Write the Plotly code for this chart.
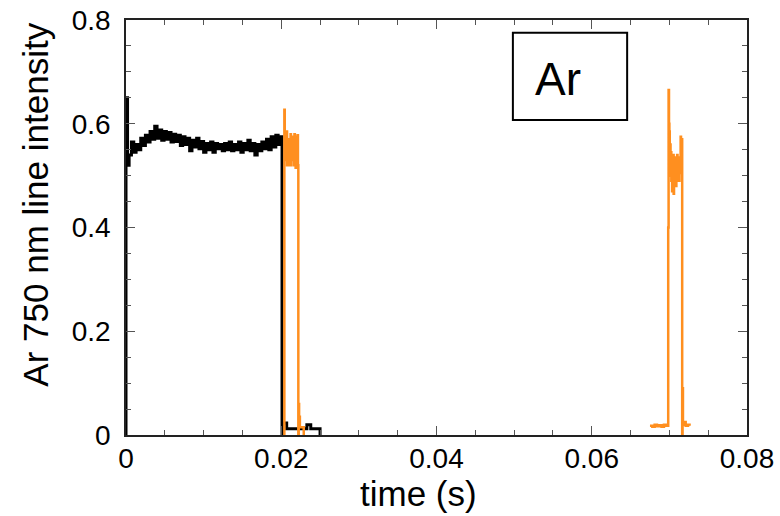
import plotly.graph_objects as go

# ---- data ----
black_t = [0.0, 0.0, 0.0002,
           0.0004, 0.0007, 0.0010, 0.0013, 0.0016, 0.0019, 0.0022, 0.0025, 0.0028, 0.0031,
           0.0034, 0.0037, 0.0040, 0.0043, 0.0046, 0.0049, 0.0052, 0.0055, 0.0058, 0.0061,
           0.0064, 0.0067, 0.0070, 0.0073, 0.0076, 0.0079, 0.0082, 0.0085, 0.0088, 0.0091,
           0.0094, 0.0097, 0.0100, 0.0103, 0.0106, 0.0109, 0.0112, 0.0115, 0.0118, 0.0121,
           0.0124, 0.0127, 0.0130, 0.0133, 0.0136, 0.0139, 0.0142, 0.0145, 0.0148, 0.0151,
           0.0154, 0.0157, 0.0160, 0.0163, 0.0166, 0.0169, 0.0172, 0.0175, 0.0178, 0.0181,
           0.0184, 0.0187, 0.0190, 0.0193, 0.0196, 0.0199,
           0.0201, 0.0202, 0.0207, 0.0233, 0.0238, 0.0250]
black_v = [0.0, 0.65, 0.52,
           0.54, 0.565, 0.545, 0.56, 0.55, 0.572, 0.558, 0.578, 0.565, 0.585,
           0.57, 0.595, 0.572, 0.588, 0.568, 0.585, 0.57, 0.583, 0.565, 0.58,
           0.566, 0.578, 0.558, 0.575, 0.56, 0.572, 0.548, 0.568, 0.555, 0.572,
           0.552, 0.566, 0.545, 0.562, 0.55, 0.565, 0.545, 0.562, 0.552, 0.56,
           0.548, 0.562, 0.55, 0.565, 0.548, 0.56, 0.55, 0.565, 0.545, 0.562,
           0.55, 0.568, 0.548, 0.562, 0.54, 0.56, 0.548, 0.565, 0.552, 0.57,
           0.55, 0.575, 0.555, 0.578, 0.56, 0.575,
           0.0, 0.023, 0.012, 0.02, 0.012, 0.0]

orange1_t = [0.02035, 0.0204, 0.02045, 0.0205, 0.02055, 0.0206, 0.02065, 0.0207, 0.02075,
             0.0208, 0.02085, 0.0209, 0.02095, 0.0210, 0.02105, 0.0211, 0.02115, 0.0212,
             0.02125, 0.0213, 0.02135, 0.0214, 0.02145, 0.0215, 0.02155, 0.0216, 0.02165,
             0.0217, 0.02175, 0.0218, 0.02185, 0.0219, 0.02195, 0.0220, 0.02205, 0.0221,
             0.02215, 0.0222, 0.02225, 0.0223, 0.02235, 0.0224, 0.0229]
orange1_v = [0.0, 0.627, 0.545, 0.58, 0.53, 0.57, 0.54, 0.585, 0.52,
             0.56, 0.535, 0.565, 0.54, 0.57, 0.52, 0.56, 0.545, 0.58,
             0.52, 0.565, 0.54, 0.575, 0.53, 0.56, 0.535, 0.57, 0.52,
             0.58, 0.54, 0.575, 0.515, 0.565, 0.53, 0.575, 0.55, 0.578,
             0.52, 0.0, 0.06, 0.02, 0.035, 0.015, 0.0]

orange2_t = [0.0675, 0.0678, 0.0681, 0.0684, 0.0687, 0.0690, 0.0693, 0.0696,
             0.06985, 0.0699, 0.06995, 0.0700, 0.07005, 0.0701, 0.07015, 0.0702, 0.07025,
             0.0703, 0.07035, 0.0704, 0.07045, 0.0705, 0.07055, 0.0706, 0.07065, 0.0707,
             0.07075, 0.0708, 0.07085, 0.0709, 0.07095, 0.0710, 0.07105, 0.0711, 0.07115,
             0.0712, 0.07125, 0.0713, 0.07135, 0.0714, 0.07145, 0.0715,
             0.07165, 0.0717, 0.07175, 0.0718, 0.0721, 0.0724, 0.0726]
orange2_v = [0.018, 0.016, 0.02, 0.017, 0.019, 0.016, 0.02, 0.018,
             0.40, 0.665, 0.60, 0.585, 0.53, 0.56, 0.50, 0.545, 0.49,
             0.53, 0.47, 0.52, 0.50, 0.54, 0.465, 0.52, 0.49, 0.535,
             0.50, 0.525, 0.48, 0.53, 0.50, 0.54, 0.49, 0.525, 0.50,
             0.535, 0.49, 0.53, 0.505, 0.52, 0.575, 0.57,
             0.0, 0.09, 0.02, 0.025, 0.018, 0.02, 0.018]

label_text = "Ar"
x_title = "time (s)"
y_title = "Ar 750 nm line intensity"

FONT = "Liberation Sans, Arial, Helvetica, sans-serif"
ORANGE = "#FF8F1F"

fig = go.Figure()
fig.add_trace(go.Scatter(x=black_t, y=black_v, mode="lines",
                         line=dict(color="black", width=3, shape="hv"), showlegend=False))
fig.add_trace(go.Scatter(x=orange1_t, y=orange1_v, mode="lines",
                         line=dict(color=ORANGE, width=2.5, shape="hv"), showlegend=False))
fig.add_trace(go.Scatter(x=orange2_t, y=orange2_v, mode="lines",
                         line=dict(color=ORANGE, width=2.5, shape="hv"), showlegend=False))

axis_common = dict(
    showgrid=False, zeroline=False, showline=True, linecolor="#222", linewidth=1.5,
    mirror="ticks", ticks="inside", ticklen=9, tickwidth=1, tickcolor="#555",
    tickfont=dict(family=FONT, size=28, color="black"), automargin=False,
)

fig.update_xaxes(range=[0, 0.08], dtick=0.02, tick0=0, ticklabelstandoff=-2,
                 minor=dict(dtick=0.005, ticks="inside", ticklen=5, tickcolor="#555", tickwidth=1),
                 **axis_common)
fig.update_yaxes(range=[0, 0.8], dtick=0.2, tick0=0, ticklabelstandoff=8,
                 minor=dict(dtick=0.05, ticks="inside", ticklen=5, tickcolor="#555", tickwidth=1),
                 **axis_common)

# axis titles (placed as annotations to match the reference's offsets)
fig.add_annotation(text=x_title, xref="paper", yref="paper", x=0.471, y=-0.14,
                   xanchor="center", yanchor="middle", showarrow=False,
                   font=dict(family=FONT, size=35, color="black"))
fig.add_annotation(text=y_title, xref="paper", yref="paper", x=-0.145, y=0.555,
                   xanchor="center", yanchor="middle", showarrow=False, textangle=-90,
                   font=dict(family=FONT, size=35, color="black"))

fig.add_shape(type="rect", xref="paper", yref="paper",
              x0=0.623, x1=0.807, y0=0.759, y1=0.969,
              line=dict(color="black", width=2), fillcolor="white", layer="above")
fig.add_annotation(text=label_text, xref="paper", yref="paper", x=0.696, y=0.857,
                   xanchor="center", yanchor="middle", showarrow=False,
                   font=dict(family=FONT, size=46, color="black"))

fig.update_layout(
    width=780, height=516,
    margin=dict(l=126, r=33, t=20, b=81),
    paper_bgcolor="white", plot_bgcolor="white",
)

fig.write_html("out.html")
